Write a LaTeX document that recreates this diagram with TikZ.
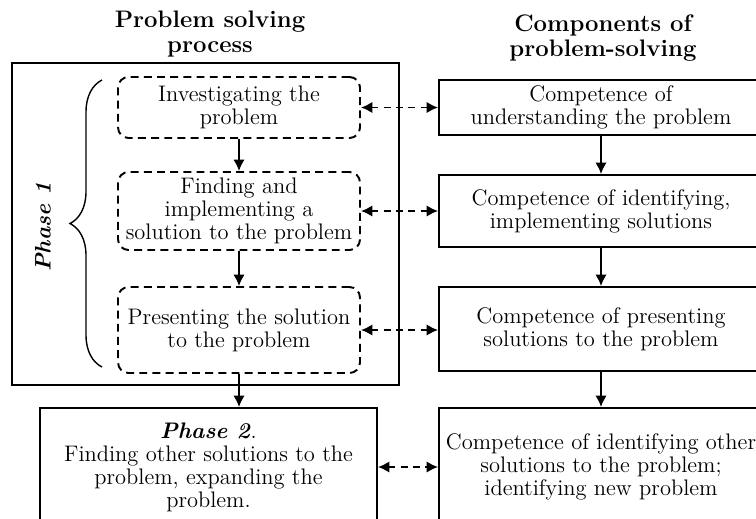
\documentclass[tikz,border=0pt]{standalone}
\usepackage{fontspec}
\usetikzlibrary{arrows.meta,decorations.pathreplacing}

\begin{document}
\begin{tikzpicture}[x=0.02cm, y=-0.02cm, line width=1.1pt, >={Latex[length=6.5pt,width=6.5pt]},
        every node/.style={align=center, font=\fontsize{12.8}{13.1}\selectfont},
        heading/.style={font=\fontsize{13.6}{14.5}\selectfont\bfseries},
        dashbox/.style={draw, rectangle, dash pattern=on 4.5pt off 3pt, rounded corners=6pt, minimum width=4.84cm},
        solidbox/.style={draw, rectangle, minimum width=6.48cm},
        dashlink/.style={<->, dash pattern=on 4pt off 3pt}]
            \useasboundingbox (0,0) rectangle (756,518);
            \clip (0,0) rectangle (756,518);

            \draw (210,34) node [heading] (h1) {Problem solving\\process};
            \draw (603,38) node [heading] (h2) {Components of\\problem-solving};

            % phase 1 frame with its three steps
            \draw (205.5,224) node [draw, rectangle, minimum width=7.74cm, minimum height=6.44cm] (ph1) {};
            \draw (239,107.5) node [dashbox, minimum height=1.22cm] (inv) {Investigating the\\problem};
            \draw (239,211) node [dashbox, minimum height=1.56cm] (find) {Finding and\\implementing a\\solution to the problem};
            \draw (239,330) node [dashbox, minimum height=1.72cm] (pres) {Presenting the solution\\to the problem};
            \draw (43,227) node [rotate=90, font=\fontsize{12.8}{13}\selectfont\bfseries\itshape] (lab1) {Phase 1};
            \draw[line width=0.8pt, decorate, decoration={brace, amplitude=0.64cm}] (102,367) -- (102,80);

            \draw (208.5,467) node [draw, rectangle, minimum width=6.74cm, minimum height=2.36cm] (ph2)
                {\textbf{\textit{Phase 2}}.\\Finding other solutions to the\\problem, expanding the\\problem.};

            % competences
            \draw (601,107.5) node [solidbox, minimum height=1.02cm] (und) {Competence of\\understanding the problem};
            \draw (601,211) node [solidbox, minimum height=1.44cm] (ident) {Competence of identifying,\\implementing solutions};
            \draw (601,329) node [solidbox, minimum height=1.68cm] (prest) {Competence of presenting\\solutions to the problem};
            \draw (601,467) node [solidbox, minimum height=2.36cm] (other) {Competence of identifying other\\solutions to the problem;\\identifying new problem};

            \draw[->] (inv) -- (find);
            \draw[->] (find) -- (pres);
            \draw[->] (pres) -- (pres |- ph2.north);
            \draw[->] (und) -- (ident);
            \draw[->] (ident) -- (prest);
            \draw[->] (prest) -- (other);

            \draw[dashlink] (inv.east) -- (inv.east -| und.west);
            \draw[dashlink] (find.east) -- (find.east -| ident.west);
            \draw[dashlink] (pres.east) -- (pres.east -| prest.west);
            \draw[dashlink] (ph2.east) -- (ph2.east -| other.west);
        \end{tikzpicture}
\end{document}
